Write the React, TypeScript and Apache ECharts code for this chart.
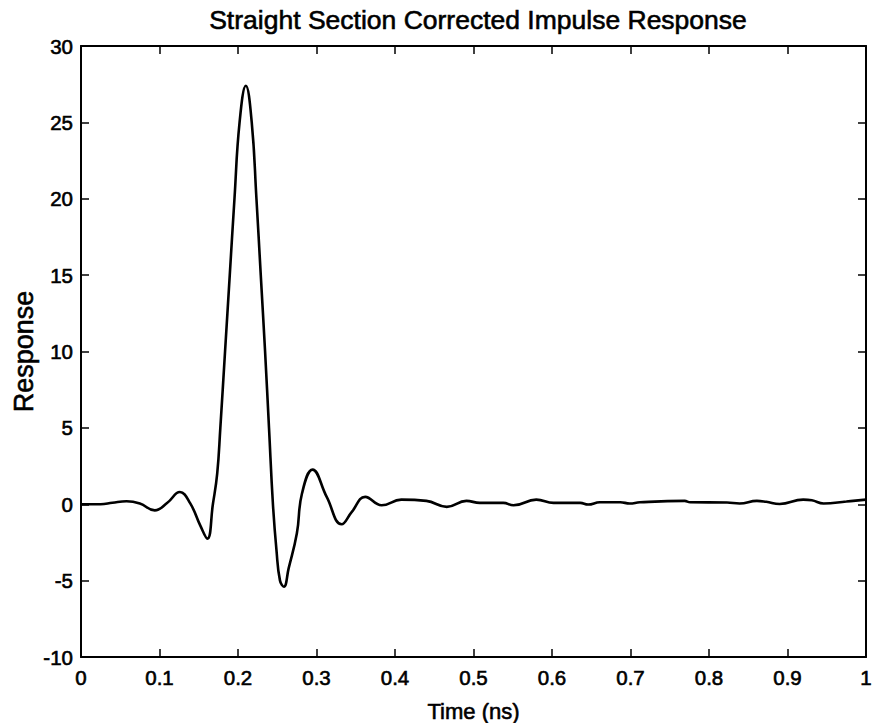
import React, { useEffect, useRef } from "react";
import * as echarts from "echarts";

const titleText = "Straight Section Corrected Impulse Response";
const xName = "Time (ns)";
const yName = "Response";

const timeNs = [
  0, 0.025, 0.04, 0.058, 0.075, 0.094, 0.11, 0.126, 0.139, 0.152, 0.161, 0.168,
  0.1735, 0.1775, 0.1835, 0.1895, 0.1955, 0.202, 0.21, 0.2175, 0.2235, 0.229,
  0.2345, 0.2395, 0.2445, 0.249, 0.2535, 0.2585, 0.2645, 0.275, 0.2815, 0.295,
  0.313, 0.332, 0.345, 0.362, 0.383, 0.408, 0.44, 0.466, 0.491, 0.508, 0.538,
  0.551, 0.58, 0.602, 0.636, 0.646, 0.661, 0.687, 0.699, 0.712, 0.769, 0.776,
  0.823, 0.839, 0.861, 0.873, 0.89, 0.92, 0.931, 0.946, 0.975, 1.0,
];
const response = [
  0, 0, 0.1, 0.2, 0.05, -0.4, 0.1, 0.8, 0.07, -1.4, -2.25, 0, 2, 5, 10, 15, 20,
  25, 27.4, 25, 20, 15, 10, 5, 0, -3, -5, -5.4, -4.2, -1.9, 0.7, 2.27, 0.48,
  -1.31, -0.5, 0.48, -0.07, 0.3, 0.22, -0.17, 0.22, 0.09, 0.09, -0.07, 0.3,
  0.09, 0.09, -0.02, 0.13, 0.13, 0.05, 0.13, 0.22, 0.13, 0.11, 0.05, 0.22, 0.16,
  0.02, 0.3, 0.26, 0.05, 0.18, 0.3,
];

const FONT = "'Liberation Sans', Arial, Helvetica, sans-serif";
const ink = { color: "#000", textBorderColor: "#000", textBorderWidth: 0.6 };

export default function App() {
  const ref = useRef<HTMLDivElement>(null);
  useEffect(() => {
    if (!ref.current) return;
    const chart = echarts.init(ref.current, undefined, { renderer: "svg" });
    const axisLine = {
      show: true,
      onZero: false,
      lineStyle: { color: "#000", width: 2 },
    };
    const tick = {
      show: true,
      inside: true,
      length: 8,
      lineStyle: { color: "#000", width: 1.5 },
    };
    chart.setOption({
      animation: false,
      backgroundColor: "#fff",
      title: {
        text: titleText,
        left: 473,
        textAlign: "center",
        top: 1,
        textStyle: {
          fontFamily: FONT,
          fontSize: 26.5,
          fontWeight: "normal",
          ...ink,
        },
      },
      grid: {
        left: 81,
        top: 46,
        right: 6,
        bottom: 66,
        containLabel: false,
        outerBoundsMode: "none",
      },
      xAxis: [
        {
          type: "value",
          min: 0,
          max: 1,
          interval: 0.1,
          name: xName,
          nameLocation: "middle",
          nameGap: 43,
          nameMoveOverlap: false,
          nameTextStyle: { fontFamily: FONT, fontSize: 22, ...ink },
          axisLine,
          axisTick: tick,
          splitLine: { show: false },
          axisLabel: {
            fontFamily: FONT,
            fontSize: 20.5,
            margin: 10,
            ...ink,
          },
        },
        {
          type: "value",
          position: "top",
          min: 0,
          max: 1,
          interval: 0.1,
          axisLine,
          axisTick: tick,
          splitLine: { show: false },
          axisLabel: { show: false },
        },
      ],
      yAxis: [
        {
          type: "value",
          min: -10,
          max: 30,
          interval: 5,
          name: yName,
          nameLocation: "middle",
          nameGap: 44,
          nameMoveOverlap: false,
          nameTextStyle: { fontFamily: FONT, fontSize: 27, ...ink },
          axisLine,
          axisTick: tick,
          splitLine: { show: false },
          axisLabel: {
            fontFamily: FONT,
            fontSize: 20.5,
            margin: 8,
            ...ink,
          },
        },
        {
          type: "value",
          position: "right",
          min: -10,
          max: 30,
          interval: 5,
          axisLine,
          axisTick: tick,
          splitLine: { show: false },
          axisLabel: { show: false },
        },
      ],
      series: [
        {
          type: "line",
          data: timeNs.map((t, i) => [t, response[i]]),
          showSymbol: false,
          smooth: 0.45,
          lineStyle: { color: "#000", width: 2.6 },
        },
      ],
    });
    return () => chart.dispose();
  }, []);
  return (
    <div
      ref={ref}
      style={{ position: "fixed", left: 0, top: 0, width: 872, height: 723 }}
    />
  );
}
